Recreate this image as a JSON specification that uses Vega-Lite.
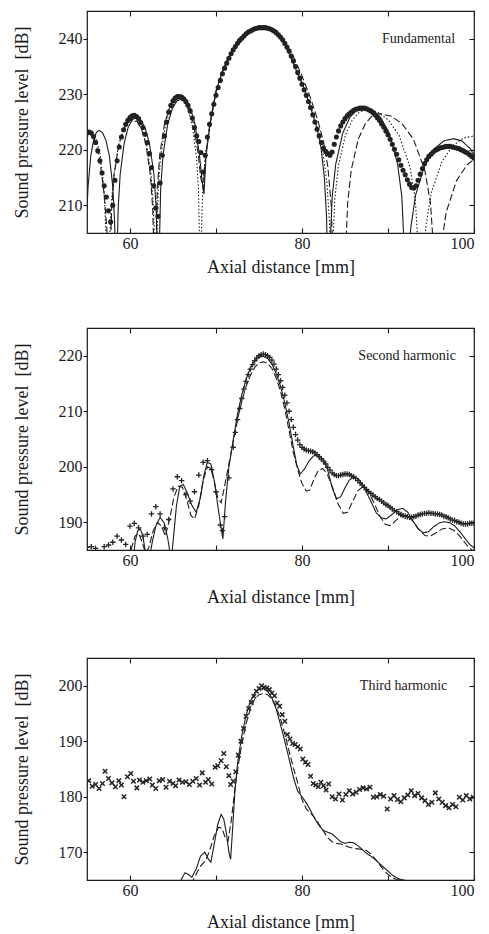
{
"$schema": "https://vega.github.io/schema/vega-lite/v6.json",
"background": "#ffffff",
"padding": {"left": 12, "top": 9, "right": 8, "bottom": 4},
"spacing": 49,
"config": {
  "font": "Liberation Serif",
  "view": {"stroke": "#1a1a1a", "strokeWidth": 1.2},
  "axis": {"domain": false, "grid": false, "tickSize": -5, "tickColor": "#1a1a1a", "tickWidth": 1.1, "labelFont": "Liberation Serif", "labelFontSize": 16, "labelColor": "#1a1a1a", "titleFont": "Liberation Serif", "titleFontSize": 18, "titleFontWeight": "normal", "titleColor": "#1a1a1a", "labelPadding": 3},
  "axisBottom": {"labelPadding": 7},
  "axisLeft": {"tickSize": 4, "labelPadding": 1, "titlePadding": 27}
},
"datasets": {
"p1": [
{"s":"solid","x":55.0,"y":209.3},{"s":"solid","x":55.12,"y":213.3},{"s":"solid","x":55.44,"y":218.9},{"s":"solid","x":55.76,"y":221.7},{"s":"solid","x":56.08,"y":223.1},{"s":"solid","x":56.4,"y":223.5},{"s":"solid","x":56.8,"y":223.1},{"s":"solid","x":57.2,"y":221.7},{"s":"solid","x":57.6,"y":218.9},{"s":"solid","x":58.0,"y":213.3},{"s":"solid","x":58.2,"y":207.4},{"s":"solid","x":58.4,"y":195},
{"s":"solid","x":58.63,"y":209.7},{"s":"solid","x":58.86,"y":215.6},{"s":"solid","x":59.32,"y":221.2},{"s":"solid","x":59.78,"y":224.0},{"s":"solid","x":60.24,"y":225.4},{"s":"solid","x":60.7,"y":225.8},{"s":"solid","x":61.22,"y":225.4},{"s":"solid","x":61.74,"y":224.0},{"s":"solid","x":62.26,"y":221.2},{"s":"solid","x":62.78,"y":215.6},{"s":"solid","x":63.04,"y":209.7},{"s":"solid","x":63.3,"y":195},
{"s":"solid","x":63.57,"y":213.1},{"s":"solid","x":63.84,"y":219.0},{"s":"solid","x":64.38,"y":224.6},{"s":"solid","x":64.92,"y":227.4},{"s":"solid","x":65.46,"y":228.8},{"s":"solid","x":66.0,"y":229.2},{"s":"solid","x":66.52,"y":228.8},{"s":"solid","x":67.04,"y":227.4},{"s":"solid","x":67.56,"y":224.6},{"s":"solid","x":68.08,"y":219.0},{"s":"solid","x":68.34,"y":215},{"s":"solid","x":68.6,"y":212},
{"s":"solid","x":68.85,"y":219},{"s":"solid","x":69.3,"y":224.5},{"s":"solid","x":70,"y":230.5},{"s":"solid","x":70.7,"y":234},{"s":"solid","x":71.5,"y":236.7},{"s":"solid","x":72.3,"y":238.6},{"s":"solid","x":73.1,"y":240.1},{"s":"solid","x":74,"y":241.3},{"s":"solid","x":75,"y":242},{"s":"solid","x":76,"y":241.9},{"s":"solid","x":77,"y":241.2},{"s":"solid","x":77.7,"y":240},{"s":"solid","x":78.3,"y":238},{"s":"solid","x":79,"y":235.5},{"s":"solid","x":79.5,"y":233.7},{"s":"solid","x":80.3,"y":230.8},{"s":"solid","x":81,"y":227.6},{"s":"solid","x":81.8,"y":223.5},{"s":"solid","x":82.2,"y":220.5},{"s":"solid","x":82.6,"y":215},{"s":"solid","x":82.85,"y":208},{"s":"solid","x":83.05,"y":195},
{"s":"solid","x":83.51,"y":211.5},{"s":"solid","x":83.92,"y":217.4},{"s":"solid","x":84.74,"y":223},{"s":"solid","x":85.56,"y":225.8},{"s":"solid","x":86.38,"y":227.2},{"s":"solid","x":87.2,"y":227.6},{"s":"solid","x":88.18,"y":227.2},{"s":"solid","x":89.16,"y":225.8},{"s":"solid","x":90.14,"y":223},{"s":"solid","x":91.12,"y":217.4},{"s":"solid","x":91.61,"y":211.5},{"s":"solid","x":92.1,"y":195},
{"s":"solid","x":92.65,"y":205.9},{"s":"solid","x":93.2,"y":211.8},{"s":"solid","x":94.3,"y":217.4},{"s":"solid","x":95.4,"y":220.2},{"s":"solid","x":96.5,"y":221.6},{"s":"solid","x":97.6,"y":222},{"s":"solid","x":98.58,"y":221.6},{"s":"solid","x":99.56,"y":220.2},{"s":"solid","x":100,"y":219.1},
{"s":"dotted","x":55,"y":222.3},{"s":"dotted","x":55.5,"y":223},{"s":"dotted","x":56,"y":222.3},{"s":"dotted","x":56.5,"y":219.5},{"s":"dotted","x":56.9,"y":214},{"s":"dotted","x":57.1,"y":209},{"s":"dotted","x":57.4,"y":195},
{"s":"dotted","x":57.79,"y":209.2},{"s":"dotted","x":58.08,"y":215.1},{"s":"dotted","x":58.66,"y":220.7},{"s":"dotted","x":59.24,"y":223.5},{"s":"dotted","x":59.82,"y":224.9},{"s":"dotted","x":60.4,"y":225.3},{"s":"dotted","x":60.92,"y":224.9},{"s":"dotted","x":61.44,"y":223.5},{"s":"dotted","x":61.96,"y":220.7},{"s":"dotted","x":62.48,"y":215.1},{"s":"dotted","x":62.74,"y":209.2},{"s":"dotted","x":63.0,"y":195},
{"s":"dotted","x":63.28,"y":212.9},{"s":"dotted","x":63.56,"y":218.8},{"s":"dotted","x":64.12,"y":224.4},{"s":"dotted","x":64.68,"y":227.2},{"s":"dotted","x":65.24,"y":228.6},{"s":"dotted","x":65.8,"y":229},{"s":"dotted","x":66.28,"y":228.6},{"s":"dotted","x":66.76,"y":227.2},{"s":"dotted","x":67.24,"y":224.4},{"s":"dotted","x":67.72,"y":218.8},{"s":"dotted","x":67.96,"y":212.9},{"s":"dotted","x":68.2,"y":195},
{"s":"dotted","x":68.35,"y":208},{"s":"dotted","x":68.5,"y":214},{"s":"dotted","x":68.8,"y":219.5},{"s":"dotted","x":69.3,"y":224.5},{"s":"dotted","x":70,"y":230.3},{"s":"dotted","x":71,"y":235},{"s":"dotted","x":72,"y":238.2},{"s":"dotted","x":73,"y":240.2},{"s":"dotted","x":74,"y":241.4},{"s":"dotted","x":75,"y":242},{"s":"dotted","x":76,"y":241.9},{"s":"dotted","x":77,"y":241.2},{"s":"dotted","x":78,"y":239},{"s":"dotted","x":79,"y":236},{"s":"dotted","x":80,"y":232},{"s":"dotted","x":81,"y":228},{"s":"dotted","x":81.8,"y":224},{"s":"dotted","x":82.4,"y":220},{"s":"dotted","x":82.9,"y":214},{"s":"dotted","x":83.2,"y":207},{"s":"dotted","x":83.4,"y":195},
{"s":"dotted","x":83.81,"y":211.1},{"s":"dotted","x":84.22,"y":217},{"s":"dotted","x":85.04,"y":222.6},{"s":"dotted","x":85.86,"y":225.4},{"s":"dotted","x":86.68,"y":226.8},{"s":"dotted","x":87.5,"y":227.2},{"s":"dotted","x":88.76,"y":226.8},{"s":"dotted","x":90.02,"y":225.4},{"s":"dotted","x":91.28,"y":222.6},{"s":"dotted","x":92.54,"y":217},{"s":"dotted","x":93.17,"y":211.1},{"s":"dotted","x":93.8,"y":195},
{"s":"dotted","x":94.42,"y":206.4},{"s":"dotted","x":95.04,"y":212.3},{"s":"dotted","x":96.28,"y":217.9},{"s":"dotted","x":97.52,"y":220.7},{"s":"dotted","x":98.76,"y":222.1},{"s":"dotted","x":100,"y":222.5},
{"s":"dashed","x":55,"y":223},{"s":"dashed","x":55.5,"y":223},{"s":"dashed","x":56,"y":221.5},{"s":"dashed","x":56.5,"y":218},{"s":"dashed","x":57,"y":212},{"s":"dashed","x":57.3,"y":206},{"s":"dashed","x":57.6,"y":195},
{"s":"dashed","x":57.87,"y":209.4},{"s":"dashed","x":58.14,"y":215.3},{"s":"dashed","x":58.68,"y":220.9},{"s":"dashed","x":59.22,"y":223.7},{"s":"dashed","x":59.76,"y":225.1},{"s":"dashed","x":60.3,"y":225.5},{"s":"dashed","x":60.82,"y":225.1},{"s":"dashed","x":61.34,"y":223.7},{"s":"dashed","x":61.86,"y":220.9},{"s":"dashed","x":62.38,"y":215.3},{"s":"dashed","x":62.64,"y":209.4},{"s":"dashed","x":62.9,"y":195},
{"s":"dashed","x":63.18,"y":213.2},{"s":"dashed","x":63.46,"y":219.1},{"s":"dashed","x":64.02,"y":224.7},{"s":"dashed","x":64.58,"y":227.5},{"s":"dashed","x":65.14,"y":228.9},{"s":"dashed","x":65.7,"y":229.3},{"s":"dashed","x":66.26,"y":228.9},{"s":"dashed","x":66.82,"y":227.5},{"s":"dashed","x":67.38,"y":224.7},{"s":"dashed","x":67.94,"y":219.1},{"s":"dashed","x":68.22,"y":215},{"s":"dashed","x":68.5,"y":213},
{"s":"dashed","x":68.8,"y":219},{"s":"dashed","x":69.3,"y":224.8},{"s":"dashed","x":70,"y":230.6},{"s":"dashed","x":71,"y":235.2},{"s":"dashed","x":72,"y":238.4},{"s":"dashed","x":73,"y":240.4},{"s":"dashed","x":74,"y":241.6},{"s":"dashed","x":75,"y":242.1},{"s":"dashed","x":76,"y":242},{"s":"dashed","x":77,"y":241.4},{"s":"dashed","x":78,"y":239.5},{"s":"dashed","x":79,"y":236.8},{"s":"dashed","x":80,"y":233.3},{"s":"dashed","x":81,"y":229.3},{"s":"dashed","x":81.8,"y":225.5},{"s":"dashed","x":82.5,"y":221.5},{"s":"dashed","x":83,"y":217},{"s":"dashed","x":83.4,"y":210},{"s":"dashed","x":83.7,"y":195},{"s":"dashed","x":84.9,"y":195},
{"s":"dashed","x":85.31,"y":210.4},{"s":"dashed","x":85.72,"y":216.3},{"s":"dashed","x":86.54,"y":221.9},{"s":"dashed","x":87.36,"y":224.7},{"s":"dashed","x":88.18,"y":226.1},{"s":"dashed","x":89.0,"y":226.5},{"s":"dashed","x":90.32,"y":226.1},{"s":"dashed","x":91.64,"y":224.7},{"s":"dashed","x":92.96,"y":221.9},{"s":"dashed","x":94.28,"y":216.3},{"s":"dashed","x":94.94,"y":210.4},{"s":"dashed","x":95.6,"y":195},
{"s":"dashed","x":96.19,"y":202.9},{"s":"dashed","x":96.78,"y":208.8},{"s":"dashed","x":97.96,"y":214.4},{"s":"dashed","x":99.14,"y":217.2},{"s":"dashed","x":100,"y":218.3},
{"s":"meas","x":55.0,"y":223.0},{"s":"meas","x":55.25,"y":223.2},{"s":"meas","x":55.5,"y":223.0},{"s":"meas","x":55.75,"y":222.4},{"s":"meas","x":56.0,"y":221.3},{"s":"meas","x":56.25,"y":219.8},{"s":"meas","x":56.5,"y":218.0},{"s":"meas","x":56.75,"y":215.8},{"s":"meas","x":57.0,"y":213.5},{"s":"meas","x":57.25,"y":211.5},{"s":"meas","x":57.5,"y":209.0},{"s":"meas","x":57.75,"y":207.0},{"s":"meas","x":58.0,"y":210.0},{"s":"meas","x":58.25,"y":214.5},{"s":"meas","x":58.5,"y":218.0},{"s":"meas","x":58.75,"y":220.5},{"s":"meas","x":59.0,"y":222.3},{"s":"meas","x":59.25,"y":223.6},{"s":"meas","x":59.5,"y":224.6},{"s":"meas","x":59.75,"y":225.3},{"s":"meas","x":60.0,"y":225.8},{"s":"meas","x":60.25,"y":226.1},{"s":"meas","x":60.5,"y":226.2},{"s":"meas","x":60.75,"y":226.0},{"s":"meas","x":61.0,"y":225.6},{"s":"meas","x":61.25,"y":224.9},{"s":"meas","x":61.5,"y":224.0},{"s":"meas","x":61.75,"y":222.8},{"s":"meas","x":62.0,"y":221.3},{"s":"meas","x":62.25,"y":219.3},{"s":"meas","x":62.5,"y":216.8},{"s":"meas","x":62.75,"y":213.5},{"s":"meas","x":63.0,"y":209.5},{"s":"meas","x":63.25,"y":208.0},{"s":"meas","x":63.5,"y":214.0},{"s":"meas","x":63.75,"y":219.0},{"s":"meas","x":64.0,"y":222.5},{"s":"meas","x":64.25,"y":225.0},{"s":"meas","x":64.5,"y":226.8},{"s":"meas","x":64.75,"y":228.0},{"s":"meas","x":65.0,"y":228.8},{"s":"meas","x":65.25,"y":229.3},{"s":"meas","x":65.5,"y":229.6},{"s":"meas","x":65.75,"y":229.6},{"s":"meas","x":66.0,"y":229.5},{"s":"meas","x":66.25,"y":229.2},{"s":"meas","x":66.5,"y":228.7},{"s":"meas","x":66.75,"y":228.0},{"s":"meas","x":67.0,"y":227.0},{"s":"meas","x":67.25,"y":225.7},{"s":"meas","x":67.5,"y":224.0},{"s":"meas","x":67.75,"y":222.5},{"s":"meas","x":68.0,"y":221.5},{"s":"meas","x":68.25,"y":219.5},{"s":"meas","x":68.5,"y":216.0},{"s":"meas","x":68.75,"y":219.0},{"s":"meas","x":69.0,"y":222.3},{"s":"meas","x":69.25,"y":224.6},{"s":"meas","x":69.5,"y":226.5},{"s":"meas","x":69.75,"y":228.2},{"s":"meas","x":70.0,"y":229.8},{"s":"meas","x":70.25,"y":231.2},{"s":"meas","x":70.5,"y":232.5},{"s":"meas","x":70.75,"y":233.7},{"s":"meas","x":71.0,"y":234.7},{"s":"meas","x":71.25,"y":235.6},{"s":"meas","x":71.5,"y":236.5},{"s":"meas","x":71.75,"y":237.3},{"s":"meas","x":72.0,"y":238.0},{"s":"meas","x":72.25,"y":238.6},{"s":"meas","x":72.5,"y":239.2},{"s":"meas","x":72.75,"y":239.7},{"s":"meas","x":73.0,"y":240.1},{"s":"meas","x":73.25,"y":240.5},{"s":"meas","x":73.5,"y":240.9},{"s":"meas","x":73.75,"y":241.2},{"s":"meas","x":74.0,"y":241.4},{"s":"meas","x":74.25,"y":241.6},{"s":"meas","x":74.5,"y":241.8},{"s":"meas","x":74.75,"y":241.9},{"s":"meas","x":75.0,"y":242.0},{"s":"meas","x":75.25,"y":242.0},{"s":"meas","x":75.5,"y":242.0},{"s":"meas","x":75.75,"y":242.0},{"s":"meas","x":76.0,"y":241.9},{"s":"meas","x":76.25,"y":241.8},{"s":"meas","x":76.5,"y":241.6},{"s":"meas","x":76.75,"y":241.4},{"s":"meas","x":77.0,"y":241.1},{"s":"meas","x":77.25,"y":240.7},{"s":"meas","x":77.5,"y":240.3},{"s":"meas","x":77.75,"y":239.8},{"s":"meas","x":78.0,"y":239.2},{"s":"meas","x":78.25,"y":238.5},{"s":"meas","x":78.5,"y":237.8},{"s":"meas","x":78.75,"y":236.9},{"s":"meas","x":79.0,"y":236.0},{"s":"meas","x":79.25,"y":235.0},{"s":"meas","x":79.5,"y":233.9},{"s":"meas","x":79.75,"y":232.9},{"s":"meas","x":80.0,"y":231.8},{"s":"meas","x":80.25,"y":230.8},{"s":"meas","x":80.5,"y":229.8},{"s":"meas","x":80.75,"y":228.7},{"s":"meas","x":81.0,"y":227.6},{"s":"meas","x":81.25,"y":226.3},{"s":"meas","x":81.5,"y":225.0},{"s":"meas","x":81.75,"y":223.7},{"s":"meas","x":82.0,"y":222.5},{"s":"meas","x":82.25,"y":221.3},{"s":"meas","x":82.5,"y":220.3},{"s":"meas","x":82.75,"y":219.7},{"s":"meas","x":83.0,"y":219.3},{"s":"meas","x":83.25,"y":219.0},{"s":"meas","x":83.5,"y":219.6},{"s":"meas","x":83.75,"y":221.0},{"s":"meas","x":84.0,"y":222.3},{"s":"meas","x":84.25,"y":223.4},{"s":"meas","x":84.5,"y":224.3},{"s":"meas","x":84.75,"y":225.0},{"s":"meas","x":85.0,"y":225.6},{"s":"meas","x":85.25,"y":226.1},{"s":"meas","x":85.5,"y":226.5},{"s":"meas","x":85.75,"y":226.8},{"s":"meas","x":86.0,"y":227.1},{"s":"meas","x":86.25,"y":227.3},{"s":"meas","x":86.5,"y":227.4},{"s":"meas","x":86.75,"y":227.5},{"s":"meas","x":87.0,"y":227.5},{"s":"meas","x":87.25,"y":227.5},{"s":"meas","x":87.5,"y":227.4},{"s":"meas","x":87.75,"y":227.2},{"s":"meas","x":88.0,"y":227.0},{"s":"meas","x":88.25,"y":226.7},{"s":"meas","x":88.5,"y":226.3},{"s":"meas","x":88.75,"y":225.8},{"s":"meas","x":89.0,"y":225.3},{"s":"meas","x":89.25,"y":224.7},{"s":"meas","x":89.5,"y":224.1},{"s":"meas","x":89.75,"y":223.4},{"s":"meas","x":90.0,"y":222.7},{"s":"meas","x":90.25,"y":221.9},{"s":"meas","x":90.5,"y":221.0},{"s":"meas","x":90.75,"y":220.1},{"s":"meas","x":91.0,"y":219.2},{"s":"meas","x":91.25,"y":218.2},{"s":"meas","x":91.5,"y":217.2},{"s":"meas","x":91.75,"y":216.3},{"s":"meas","x":92.0,"y":215.5},{"s":"meas","x":92.25,"y":214.6},{"s":"meas","x":92.5,"y":213.8},{"s":"meas","x":92.75,"y":213.2},{"s":"meas","x":93.0,"y":213.1},{"s":"meas","x":93.25,"y":213.5},{"s":"meas","x":93.5,"y":214.5},{"s":"meas","x":93.75,"y":215.6},{"s":"meas","x":94.0,"y":216.6},{"s":"meas","x":94.25,"y":217.5},{"s":"meas","x":94.5,"y":218.2},{"s":"meas","x":94.75,"y":218.8},{"s":"meas","x":95.0,"y":219.2},{"s":"meas","x":95.25,"y":219.6},{"s":"meas","x":95.5,"y":219.9},{"s":"meas","x":95.75,"y":220.1},{"s":"meas","x":96.0,"y":220.3},{"s":"meas","x":96.25,"y":220.4},{"s":"meas","x":96.5,"y":220.5},{"s":"meas","x":96.75,"y":220.6},{"s":"meas","x":97.0,"y":220.6},{"s":"meas","x":97.25,"y":220.6},{"s":"meas","x":97.5,"y":220.5},{"s":"meas","x":97.75,"y":220.4},{"s":"meas","x":98.0,"y":220.3},{"s":"meas","x":98.25,"y":220.2},{"s":"meas","x":98.5,"y":220.0},{"s":"meas","x":98.75,"y":219.8},{"s":"meas","x":99.0,"y":219.6},{"s":"meas","x":99.25,"y":219.4},{"s":"meas","x":99.5,"y":219.1},{"s":"meas","x":99.75,"y":218.8},{"s":"meas","x":100.0,"y":218.5}
],
"p2": [
{"s":"solid","x":55,"y":180},{"s":"solid","x":60.3,"y":182},{"s":"solid","x":60.6,"y":186.5},{"s":"solid","x":60.9,"y":188.5},{"s":"solid","x":61.2,"y":188.8},{"s":"solid","x":61.5,"y":187.5},{"s":"solid","x":61.8,"y":184.5},{"s":"solid","x":62.2,"y":183},{"s":"solid","x":62.6,"y":186.5},{"s":"solid","x":63.0,"y":189.3},{"s":"solid","x":63.5,"y":190.9},{"s":"solid","x":64.0,"y":189.8},{"s":"solid","x":64.4,"y":187},{"s":"solid","x":64.8,"y":183},{"s":"solid","x":65.1,"y":188},{"s":"solid","x":65.4,"y":193},{"s":"solid","x":65.8,"y":196.5},{"s":"solid","x":66.2,"y":196.8},{"s":"solid","x":66.6,"y":195.5},{"s":"solid","x":67.2,"y":193},{"s":"solid","x":67.7,"y":191.8},{"s":"solid","x":68.2,"y":194.5},{"s":"solid","x":68.6,"y":198.5},{"s":"solid","x":69.0,"y":200.8},{"s":"solid","x":69.4,"y":200.5},{"s":"solid","x":69.8,"y":197.5},{"s":"solid","x":70.3,"y":192},{"s":"solid","x":70.8,"y":187},{"s":"solid","x":71.1,"y":193.5},{"s":"solid","x":71.5,"y":200},{"s":"solid","x":72.0,"y":204.8},{"s":"solid","x":72.5,"y":209.5},{"s":"solid","x":73.0,"y":213},{"s":"solid","x":73.5,"y":215.8},{"s":"solid","x":74.0,"y":217.8},{"s":"solid","x":74.5,"y":219.1},{"s":"solid","x":75.0,"y":219.8},{"s":"solid","x":75.5,"y":219.9},{"s":"solid","x":76.0,"y":219.5},{"s":"solid","x":76.5,"y":218.5},{"s":"solid","x":77.0,"y":216.8},{"s":"solid","x":77.5,"y":214.5},{"s":"solid","x":78.0,"y":211.5},{"s":"solid","x":78.5,"y":207.8},{"s":"solid","x":79.0,"y":203.5},{"s":"solid","x":79.4,"y":200.3},{"s":"solid","x":79.8,"y":198.7},{"s":"solid","x":80.3,"y":199.6},{"s":"solid","x":80.8,"y":201.0},{"s":"solid","x":81.3,"y":201.9},{"s":"solid","x":81.9,"y":202.2},{"s":"solid","x":82.5,"y":201.3},{"s":"solid","x":83.0,"y":199.3},{"s":"solid","x":83.5,"y":196.3},{"s":"solid","x":84.0,"y":194.2},{"s":"solid","x":84.5,"y":194.6},{"s":"solid","x":85.0,"y":196.2},{"s":"solid","x":85.5,"y":197.6},{"s":"solid","x":86.1,"y":198.2},{"s":"solid","x":86.7,"y":197.6},{"s":"solid","x":87.3,"y":196.0},{"s":"solid","x":88.0,"y":193.8},{"s":"solid","x":88.6,"y":191.8},{"s":"solid","x":89.2,"y":190.8},{"s":"solid","x":89.8,"y":190.6},{"s":"solid","x":90.4,"y":191.3},{"s":"solid","x":91.0,"y":192.2},{"s":"solid","x":91.7,"y":192.5},{"s":"solid","x":92.3,"y":191.8},{"s":"solid","x":92.9,"y":190.2},{"s":"solid","x":93.5,"y":188.8},{"s":"solid","x":94.1,"y":188.1},{"s":"solid","x":94.7,"y":188.3},{"s":"solid","x":95.3,"y":189.2},{"s":"solid","x":96.0,"y":189.9},{"s":"solid","x":96.6,"y":190.1},{"s":"solid","x":97.2,"y":189.9},{"s":"solid","x":97.8,"y":189.3},{"s":"solid","x":98.4,"y":188.2},{"s":"solid","x":99.0,"y":187.0},{"s":"solid","x":99.5,"y":186.0},{"s":"solid","x":100,"y":185.4},
{"s":"dashed","x":55,"y":180},{"s":"dashed","x":59.8,"y":182},{"s":"dashed","x":60.2,"y":185.5},{"s":"dashed","x":60.6,"y":187.5},{"s":"dashed","x":61.0,"y":188.0},{"s":"dashed","x":61.4,"y":186.5},{"s":"dashed","x":61.8,"y":184.5},{"s":"dashed","x":62.2,"y":185.5},{"s":"dashed","x":62.7,"y":188.5},{"s":"dashed","x":63.2,"y":190},{"s":"dashed","x":63.7,"y":189.2},{"s":"dashed","x":64.1,"y":187.5},{"s":"dashed","x":64.6,"y":190.5},{"s":"dashed","x":65.1,"y":194.5},{"s":"dashed","x":65.6,"y":196.5},{"s":"dashed","x":66.1,"y":196.3},{"s":"dashed","x":66.6,"y":194},{"s":"dashed","x":67.1,"y":191.2},{"s":"dashed","x":67.5,"y":190.6},{"s":"dashed","x":68.0,"y":193},{"s":"dashed","x":68.5,"y":197.5},{"s":"dashed","x":69.0,"y":200.0},{"s":"dashed","x":69.4,"y":199.7},{"s":"dashed","x":69.8,"y":197.3},{"s":"dashed","x":70.2,"y":194.5},{"s":"dashed","x":70.6,"y":193.5},{"s":"dashed","x":71.0,"y":196.5},{"s":"dashed","x":71.5,"y":200.5},{"s":"dashed","x":72.0,"y":204.5},{"s":"dashed","x":72.5,"y":208.5},{"s":"dashed","x":73.0,"y":211.8},{"s":"dashed","x":73.5,"y":214.5},{"s":"dashed","x":74.0,"y":216.5},{"s":"dashed","x":74.5,"y":217.9},{"s":"dashed","x":75.0,"y":218.7},{"s":"dashed","x":75.5,"y":218.9},{"s":"dashed","x":76.0,"y":218.6},{"s":"dashed","x":76.5,"y":217.7},{"s":"dashed","x":77.0,"y":216.0},{"s":"dashed","x":77.5,"y":213.6},{"s":"dashed","x":78.0,"y":210.4},{"s":"dashed","x":78.5,"y":206.5},{"s":"dashed","x":79.0,"y":202.5},{"s":"dashed","x":79.5,"y":199.5},{"s":"dashed","x":80.0,"y":197},{"s":"dashed","x":80.5,"y":195.6},{"s":"dashed","x":80.9,"y":195.8},{"s":"dashed","x":81.4,"y":197.8},{"s":"dashed","x":81.9,"y":199.3},{"s":"dashed","x":82.4,"y":199.7},{"s":"dashed","x":82.9,"y":198.8},{"s":"dashed","x":83.5,"y":196.5},{"s":"dashed","x":84.2,"y":193.3},{"s":"dashed","x":84.8,"y":191.6},{"s":"dashed","x":85.3,"y":191.8},{"s":"dashed","x":85.9,"y":193.8},{"s":"dashed","x":86.5,"y":195.7},{"s":"dashed","x":87.1,"y":196.4},{"s":"dashed","x":87.7,"y":195.6},{"s":"dashed","x":88.4,"y":193.4},{"s":"dashed","x":89.1,"y":191.0},{"s":"dashed","x":89.7,"y":189.6},{"s":"dashed","x":90.3,"y":189.4},{"s":"dashed","x":90.9,"y":190.3},{"s":"dashed","x":91.6,"y":191.2},{"s":"dashed","x":92.2,"y":191.2},{"s":"dashed","x":92.9,"y":190.2},{"s":"dashed","x":93.6,"y":188.7},{"s":"dashed","x":94.3,"y":187.6},{"s":"dashed","x":94.9,"y":187.5},{"s":"dashed","x":95.6,"y":188.1},{"s":"dashed","x":96.3,"y":188.8},{"s":"dashed","x":97.0,"y":189.0},{"s":"dashed","x":97.7,"y":188.5},{"s":"dashed","x":98.4,"y":187.4},{"s":"dashed","x":99.1,"y":186.0},{"s":"dashed","x":99.6,"y":185.2},{"s":"dashed","x":100,"y":184.6},
{"s":"meas","x":55.0,"y":185.5},{"s":"meas","x":55.5,"y":185.6},{"s":"meas","x":56.0,"y":185.3},{"s":"meas","x":57.0,"y":185.6},{"s":"meas","x":57.5,"y":185.9},{"s":"meas","x":58.0,"y":186.4},{"s":"meas","x":58.5,"y":187.5},{"s":"meas","x":59.0,"y":186.8},{"s":"meas","x":59.5,"y":186.0},{"s":"meas","x":60.0,"y":189.3},{"s":"meas","x":60.5,"y":189.8},{"s":"meas","x":61.0,"y":189.0},{"s":"meas","x":61.5,"y":187.5},{"s":"meas","x":62.0,"y":187.8},{"s":"meas","x":62.5,"y":191.5},{"s":"meas","x":63.0,"y":192.8},{"s":"meas","x":63.5,"y":191.5},{"s":"meas","x":64.0,"y":189.0},{"s":"meas","x":64.5,"y":190.5},{"s":"meas","x":65.0,"y":196.0},{"s":"meas","x":65.5,"y":198.2},{"s":"meas","x":66.0,"y":197.5},{"s":"meas","x":66.5,"y":195.0},{"s":"meas","x":67.0,"y":193.8},{"s":"meas","x":67.5,"y":195.5},{"s":"meas","x":68.0,"y":198.5},{"s":"meas","x":68.5,"y":200.8},{"s":"meas","x":69.0,"y":201.1},{"s":"meas","x":69.5,"y":199.5},{"s":"meas","x":70.0,"y":195.5},{"s":"meas","x":70.5,"y":189.5},{"s":"meas","x":70.75,"y":188.5},{"s":"meas","x":71.0,"y":191.0},{"s":"meas","x":71.5,"y":198.0},{"s":"meas","x":72.0,"y":203.5},{"s":"meas","x":72.25,"y":206.2},{"s":"meas","x":72.5,"y":208.5},{"s":"meas","x":72.75,"y":210.5},{"s":"meas","x":73.0,"y":212.3},{"s":"meas","x":73.25,"y":214.0},{"s":"meas","x":73.5,"y":215.4},{"s":"meas","x":73.75,"y":216.6},{"s":"meas","x":74.0,"y":217.6},{"s":"meas","x":74.25,"y":218.4},{"s":"meas","x":74.5,"y":219.1},{"s":"meas","x":74.75,"y":219.6},{"s":"meas","x":75.0,"y":220.0},{"s":"meas","x":75.25,"y":220.2},{"s":"meas","x":75.5,"y":220.3},{"s":"meas","x":75.75,"y":220.2},{"s":"meas","x":76.0,"y":220.0},{"s":"meas","x":76.25,"y":219.7},{"s":"meas","x":76.5,"y":219.2},{"s":"meas","x":76.75,"y":218.5},{"s":"meas","x":77.0,"y":217.6},{"s":"meas","x":77.25,"y":216.6},{"s":"meas","x":77.5,"y":215.5},{"s":"meas","x":77.75,"y":214.3},{"s":"meas","x":78.0,"y":212.9},{"s":"meas","x":78.25,"y":211.5},{"s":"meas","x":78.5,"y":210.0},{"s":"meas","x":78.75,"y":208.5},{"s":"meas","x":79.0,"y":207.1},{"s":"meas","x":79.25,"y":205.8},{"s":"meas","x":79.5,"y":204.8},{"s":"meas","x":79.75,"y":204.0},{"s":"meas","x":80.0,"y":203.5},{"s":"meas","x":80.25,"y":203.2},{"s":"meas","x":80.5,"y":203.0},{"s":"meas","x":80.75,"y":202.9},{"s":"meas","x":81.0,"y":202.8},{"s":"meas","x":81.25,"y":202.7},{"s":"meas","x":81.5,"y":202.5},{"s":"meas","x":81.75,"y":202.2},{"s":"meas","x":82.0,"y":201.8},{"s":"meas","x":82.25,"y":201.4},{"s":"meas","x":82.5,"y":201.0},{"s":"meas","x":82.75,"y":200.5},{"s":"meas","x":83.0,"y":199.9},{"s":"meas","x":83.25,"y":199.4},{"s":"meas","x":83.5,"y":198.9},{"s":"meas","x":83.75,"y":198.6},{"s":"meas","x":84.0,"y":198.4},{"s":"meas","x":84.25,"y":198.4},{"s":"meas","x":84.5,"y":198.5},{"s":"meas","x":84.75,"y":198.6},{"s":"meas","x":85.0,"y":198.7},{"s":"meas","x":85.25,"y":198.7},{"s":"meas","x":85.5,"y":198.6},{"s":"meas","x":85.75,"y":198.4},{"s":"meas","x":86.0,"y":198.2},{"s":"meas","x":86.25,"y":197.9},{"s":"meas","x":86.5,"y":197.5},{"s":"meas","x":86.75,"y":197.1},{"s":"meas","x":87.0,"y":196.7},{"s":"meas","x":87.25,"y":196.3},{"s":"meas","x":87.5,"y":195.9},{"s":"meas","x":87.75,"y":195.5},{"s":"meas","x":88.0,"y":195.2},{"s":"meas","x":88.25,"y":194.9},{"s":"meas","x":88.5,"y":194.6},{"s":"meas","x":88.75,"y":194.3},{"s":"meas","x":89.0,"y":194.1},{"s":"meas","x":89.25,"y":193.8},{"s":"meas","x":89.5,"y":193.5},{"s":"meas","x":89.75,"y":193.2},{"s":"meas","x":90.0,"y":193.0},{"s":"meas","x":90.25,"y":192.7},{"s":"meas","x":90.5,"y":192.4},{"s":"meas","x":90.75,"y":192.1},{"s":"meas","x":91.0,"y":191.9},{"s":"meas","x":91.25,"y":191.6},{"s":"meas","x":91.5,"y":191.4},{"s":"meas","x":91.75,"y":191.2},{"s":"meas","x":92.0,"y":191.1},{"s":"meas","x":92.25,"y":191.0},{"s":"meas","x":92.5,"y":190.9},{"s":"meas","x":92.75,"y":190.9},{"s":"meas","x":93.0,"y":191.0},{"s":"meas","x":93.25,"y":191.1},{"s":"meas","x":93.5,"y":191.3},{"s":"meas","x":93.75,"y":191.4},{"s":"meas","x":94.0,"y":191.5},{"s":"meas","x":94.25,"y":191.6},{"s":"meas","x":94.5,"y":191.6},{"s":"meas","x":94.75,"y":191.7},{"s":"meas","x":95.0,"y":191.6},{"s":"meas","x":95.25,"y":191.6},{"s":"meas","x":95.5,"y":191.5},{"s":"meas","x":95.75,"y":191.5},{"s":"meas","x":96.0,"y":191.4},{"s":"meas","x":96.25,"y":191.3},{"s":"meas","x":96.5,"y":191.1},{"s":"meas","x":96.75,"y":191.0},{"s":"meas","x":97.0,"y":190.8},{"s":"meas","x":97.25,"y":190.6},{"s":"meas","x":97.5,"y":190.4},{"s":"meas","x":97.75,"y":190.3},{"s":"meas","x":98.0,"y":190.1},{"s":"meas","x":98.25,"y":190.0},{"s":"meas","x":98.5,"y":189.8},{"s":"meas","x":98.75,"y":189.7},{"s":"meas","x":99.0,"y":189.7},{"s":"meas","x":99.25,"y":189.7},{"s":"meas","x":99.5,"y":189.8},{"s":"meas","x":99.75,"y":189.8},{"s":"meas","x":100.0,"y":189.8}
],
"p3": [
{"s":"solid","x":55,"y":160},{"s":"solid","x":65.5,"y":163},{"s":"solid","x":66.0,"y":165.2},{"s":"solid","x":66.4,"y":166.3},{"s":"solid","x":66.8,"y":166.0},{"s":"solid","x":67.2,"y":165.5},{"s":"solid","x":67.7,"y":167},{"s":"solid","x":68.2,"y":169.3},{"s":"solid","x":68.7,"y":170.0},{"s":"solid","x":69.1,"y":168.8},{"s":"solid","x":69.4,"y":168.2},{"s":"solid","x":69.8,"y":171.5},{"s":"solid","x":70.2,"y":175},{"s":"solid","x":70.6,"y":176.8},{"s":"solid","x":70.9,"y":176.0},{"s":"solid","x":71.2,"y":173.5},{"s":"solid","x":71.5,"y":170},{"s":"solid","x":71.7,"y":168.7},{"s":"solid","x":71.9,"y":173.5},{"s":"solid","x":72.2,"y":181},{"s":"solid","x":72.5,"y":186},{"s":"solid","x":73.0,"y":191},{"s":"solid","x":73.5,"y":194.7},{"s":"solid","x":74.0,"y":197.2},{"s":"solid","x":74.5,"y":198.7},{"s":"solid","x":75.0,"y":199.4},{"s":"solid","x":75.5,"y":199.5},{"s":"solid","x":76.0,"y":199.0},{"s":"solid","x":76.5,"y":197.8},{"s":"solid","x":77.0,"y":195.8},{"s":"solid","x":77.5,"y":193.0},{"s":"solid","x":78.0,"y":190.0},{"s":"solid","x":78.5,"y":186.8},{"s":"solid","x":79.0,"y":183.5},{"s":"solid","x":79.5,"y":181.0},{"s":"solid","x":80.0,"y":180.0},{"s":"solid","x":80.5,"y":178.9},{"s":"solid","x":81.0,"y":177.5},{"s":"solid","x":81.5,"y":176.0},{"s":"solid","x":82.0,"y":174.8},{"s":"solid","x":82.5,"y":173.9},{"s":"solid","x":83.0,"y":173.6},{"s":"solid","x":83.5,"y":173.3},{"s":"solid","x":84.0,"y":172.6},{"s":"solid","x":84.5,"y":171.9},{"s":"solid","x":85.0,"y":171.6},{"s":"solid","x":85.5,"y":171.8},{"s":"solid","x":86.0,"y":171.7},{"s":"solid","x":86.5,"y":171.2},{"s":"solid","x":87.0,"y":170.5},{"s":"solid","x":87.5,"y":169.8},{"s":"solid","x":88.0,"y":169.3},{"s":"solid","x":88.5,"y":168.7},{"s":"solid","x":89.0,"y":168.0},{"s":"solid","x":89.5,"y":167.3},{"s":"solid","x":90.0,"y":166.6},{"s":"solid","x":90.5,"y":165.9},{"s":"solid","x":91.0,"y":165.4},{"s":"solid","x":91.5,"y":165.1},{"s":"solid","x":92.0,"y":164.9},{"s":"solid","x":94.0,"y":164.0},{"s":"solid","x":100,"y":160},
{"s":"dashed","x":55,"y":160},{"s":"dashed","x":66.8,"y":163},{"s":"dashed","x":67.5,"y":165.5},{"s":"dashed","x":68.2,"y":167.5},{"s":"dashed","x":68.8,"y":168.5},{"s":"dashed","x":69.3,"y":170.5},{"s":"dashed","x":69.8,"y":173},{"s":"dashed","x":70.3,"y":174.5},{"s":"dashed","x":70.7,"y":174.3},{"s":"dashed","x":71.1,"y":172.5},{"s":"dashed","x":71.4,"y":172},{"s":"dashed","x":71.8,"y":176},{"s":"dashed","x":72.2,"y":181.5},{"s":"dashed","x":72.6,"y":185.8},{"s":"dashed","x":73.0,"y":189.5},{"s":"dashed","x":73.5,"y":193.2},{"s":"dashed","x":74.0,"y":195.9},{"s":"dashed","x":74.5,"y":197.6},{"s":"dashed","x":75.0,"y":198.4},{"s":"dashed","x":75.5,"y":198.6},{"s":"dashed","x":76.0,"y":198.4},{"s":"dashed","x":76.5,"y":197.6},{"s":"dashed","x":77.0,"y":196.2},{"s":"dashed","x":77.5,"y":194.0},{"s":"dashed","x":78.0,"y":191.3},{"s":"dashed","x":78.5,"y":188.2},{"s":"dashed","x":79.0,"y":185.2},{"s":"dashed","x":79.5,"y":182.5},{"s":"dashed","x":80.0,"y":179.5},{"s":"dashed","x":80.5,"y":177.8},{"s":"dashed","x":81.0,"y":177.0},{"s":"dashed","x":81.5,"y":176.2},{"s":"dashed","x":82.0,"y":175.0},{"s":"dashed","x":82.5,"y":173.8},{"s":"dashed","x":83.0,"y":172.6},{"s":"dashed","x":83.5,"y":171.9},{"s":"dashed","x":84.0,"y":171.6},{"s":"dashed","x":84.5,"y":171.5},{"s":"dashed","x":85.0,"y":171.2},{"s":"dashed","x":85.5,"y":170.9},{"s":"dashed","x":86.0,"y":170.7},{"s":"dashed","x":86.5,"y":170.6},{"s":"dashed","x":87.0,"y":170.5},{"s":"dashed","x":87.5,"y":170.3},{"s":"dashed","x":88.0,"y":169.7},{"s":"dashed","x":88.5,"y":168.8},{"s":"dashed","x":89.0,"y":167.8},{"s":"dashed","x":89.5,"y":166.8},{"s":"dashed","x":90.0,"y":166.0},{"s":"dashed","x":90.5,"y":165.4},{"s":"dashed","x":91.0,"y":165.1},{"s":"dashed","x":92.0,"y":164.9},{"s":"dashed","x":94.0,"y":164.0},{"s":"dashed","x":100,"y":160},
{"s":"meas","x":55.2,"y":182.9},{"s":"meas","x":55.6,"y":181.9},{"s":"meas","x":56.0,"y":182.2},{"s":"meas","x":56.4,"y":181.5},{"s":"meas","x":56.8,"y":182.4},{"s":"meas","x":57.1,"y":184.6},{"s":"meas","x":57.5,"y":183.3},{"s":"meas","x":57.9,"y":182.5},{"s":"meas","x":58.3,"y":181.8},{"s":"meas","x":58.7,"y":182.9},{"s":"meas","x":59.0,"y":182.1},{"s":"meas","x":59.3,"y":180.0},{"s":"meas","x":59.7,"y":183.6},{"s":"meas","x":60.1,"y":184.2},{"s":"meas","x":60.4,"y":182.8},{"s":"meas","x":60.8,"y":181.6},{"s":"meas","x":61.1,"y":183.0},{"s":"meas","x":61.5,"y":182.6},{"s":"meas","x":61.9,"y":182.9},{"s":"meas","x":62.3,"y":183.2},{"s":"meas","x":62.6,"y":182.1},{"s":"meas","x":63.0,"y":181.5},{"s":"meas","x":63.4,"y":182.9},{"s":"meas","x":63.8,"y":183.1},{"s":"meas","x":64.2,"y":181.7},{"s":"meas","x":64.6,"y":182.8},{"s":"meas","x":65.0,"y":182.4},{"s":"meas","x":65.3,"y":182.0},{"s":"meas","x":65.7,"y":183.0},{"s":"meas","x":66.1,"y":182.6},{"s":"meas","x":66.5,"y":182.7},{"s":"meas","x":66.9,"y":182.2},{"s":"meas","x":67.3,"y":182.8},{"s":"meas","x":67.7,"y":183.3},{"s":"meas","x":68.1,"y":182.1},{"s":"meas","x":68.4,"y":184.3},{"s":"meas","x":68.8,"y":182.6},{"s":"meas","x":69.1,"y":183.1},{"s":"meas","x":69.5,"y":182.3},{"s":"meas","x":69.9,"y":185.3},{"s":"meas","x":70.2,"y":185.6},{"s":"meas","x":70.6,"y":186.5},{"s":"meas","x":70.9,"y":187.8},{"s":"meas","x":71.2,"y":185.4},{"s":"meas","x":71.5,"y":183.8},{"s":"meas","x":71.7,"y":182.2},{"s":"meas","x":72.0,"y":182.8},{"s":"meas","x":72.3,"y":184.5},{"s":"meas","x":72.6,"y":187.5},{"s":"meas","x":72.9,"y":190.0},{"s":"meas","x":73.2,"y":192.3},{"s":"meas","x":73.5,"y":194.5},{"s":"meas","x":73.8,"y":195.9},{"s":"meas","x":74.1,"y":197.0},{"s":"meas","x":74.4,"y":198.1},{"s":"meas","x":74.7,"y":199.0},{"s":"meas","x":75.0,"y":199.5},{"s":"meas","x":75.3,"y":200.0},{"s":"meas","x":75.6,"y":199.7},{"s":"meas","x":75.9,"y":199.6},{"s":"meas","x":76.2,"y":199.3},{"s":"meas","x":76.5,"y":198.7},{"s":"meas","x":76.8,"y":198.2},{"s":"meas","x":77.1,"y":196.9},{"s":"meas","x":77.4,"y":196.3},{"s":"meas","x":77.7,"y":194.8},{"s":"meas","x":78.0,"y":193.6},{"s":"meas","x":78.3,"y":191.2},{"s":"meas","x":78.6,"y":190.4},{"s":"meas","x":78.9,"y":189.6},{"s":"meas","x":79.2,"y":189.4},{"s":"meas","x":79.5,"y":189.0},{"s":"meas","x":79.8,"y":188.6},{"s":"meas","x":80.1,"y":186.8},{"s":"meas","x":80.4,"y":186.2},{"s":"meas","x":80.7,"y":185.8},{"s":"meas","x":81.0,"y":183.7},{"s":"meas","x":81.3,"y":182.4},{"s":"meas","x":81.6,"y":182.1},{"s":"meas","x":81.9,"y":181.8},{"s":"meas","x":82.2,"y":182.6},{"s":"meas","x":82.5,"y":182.0},{"s":"meas","x":82.8,"y":181.2},{"s":"meas","x":83.1,"y":182.3},{"s":"meas","x":83.5,"y":180.0},{"s":"meas","x":83.9,"y":179.6},{"s":"meas","x":84.3,"y":180.5},{"s":"meas","x":84.7,"y":179.4},{"s":"meas","x":85.1,"y":180.4},{"s":"meas","x":85.5,"y":181.1},{"s":"meas","x":85.9,"y":180.5},{"s":"meas","x":86.3,"y":180.8},{"s":"meas","x":86.7,"y":181.3},{"s":"meas","x":87.1,"y":181.6},{"s":"meas","x":87.5,"y":181.4},{"s":"meas","x":87.9,"y":181.7},{"s":"meas","x":88.3,"y":179.9},{"s":"meas","x":88.7,"y":180.0},{"s":"meas","x":89.1,"y":180.4},{"s":"meas","x":89.5,"y":180.1},{"s":"meas","x":89.9,"y":177.8},{"s":"meas","x":90.3,"y":179.6},{"s":"meas","x":90.7,"y":180.2},{"s":"meas","x":91.1,"y":179.5},{"s":"meas","x":91.5,"y":179.1},{"s":"meas","x":91.9,"y":179.8},{"s":"meas","x":92.3,"y":180.3},{"s":"meas","x":92.7,"y":181.1},{"s":"meas","x":93.1,"y":180.2},{"s":"meas","x":93.5,"y":180.6},{"s":"meas","x":93.9,"y":179.8},{"s":"meas","x":94.3,"y":179.3},{"s":"meas","x":94.7,"y":178.6},{"s":"meas","x":95.1,"y":179.0},{"s":"meas","x":95.5,"y":180.7},{"s":"meas","x":95.9,"y":179.6},{"s":"meas","x":96.3,"y":179.0},{"s":"meas","x":96.7,"y":178.4},{"s":"meas","x":97.1,"y":178.0},{"s":"meas","x":97.5,"y":178.6},{"s":"meas","x":97.9,"y":178.2},{"s":"meas","x":98.3,"y":179.9},{"s":"meas","x":98.7,"y":179.4},{"s":"meas","x":99.1,"y":180.2},{"s":"meas","x":99.5,"y":179.6},{"s":"meas","x":99.9,"y":179.9}
]
},
"vconcat": [
{
 "width": 387, "height": 222,
 "data": {"name": "p1"},
 "resolve": {"axis": {"x": "independent", "y": "independent"}},
 "layer": [
  {"transform": [{"filter": "datum.s != 'meas'"}],
   "mark": {"type": "line", "clip": true, "color": "#1c1c1c", "strokeWidth": 1.1},
   "encoding": {
    "x": {"field": "x", "type": "quantitative", "scale": {"domain": [55, 100], "nice": false, "zero": false},
          "axis": {"orient": "bottom", "values": [60, 70, 80, 90, 100], "labelExpr": "datum.value % 20 == 0 ? datum.label : ''", "title": "Axial distance [mm]", "titlePadding": 7}},
    "y": {"field": "y", "type": "quantitative", "scale": {"domain": [205, 245], "nice": false, "zero": false},
          "axis": {"orient": "left", "values": [210, 220, 230, 240], "title": "Sound pressure level\u00a0 [dB]"}},
    "strokeDash": {"field": "s", "type": "nominal", "scale": {"domain": ["solid", "dashed", "dotted"], "range": [[1, 0], [7, 3], [1.5, 2]]}, "legend": null}
   }},
  {"transform": [{"filter": "datum.s == 'meas'"}],
   "mark": {"type": "point", "shape": "circle", "filled": true, "size": 26, "color": "#222222", "opacity": 1, "clip": true},
   "encoding": {
    "x": {"field": "x", "type": "quantitative", "axis": {"orient": "top", "values": [60, 70, 80, 90, 100], "labels": false, "title": null}},
    "y": {"field": "y", "type": "quantitative", "axis": {"orient": "right", "values": [210, 220, 230, 240], "labels": false, "title": null}}
   }},
  {"data": {"values": [{"label": "Fundamental"}]},
   "mark": {"type": "text", "align": "right", "baseline": "middle", "fontSize": 14, "color": "#1a1a1a"},
   "encoding": {"text": {"field": "label"}, "x": {"datum": 97.8, "type": "quantitative", "axis": null}, "y": {"datum": 240, "type": "quantitative", "axis": null}}}
 ]
},
{
 "width": 387, "height": 222,
 "data": {"name": "p2"},
 "resolve": {"axis": {"x": "independent", "y": "independent"}},
 "layer": [
  {"transform": [{"filter": "datum.s != 'meas'"}],
   "mark": {"type": "line", "clip": true, "color": "#1c1c1c", "strokeWidth": 1.1},
   "encoding": {
    "x": {"field": "x", "type": "quantitative", "scale": {"domain": [55, 100], "nice": false, "zero": false},
          "axis": {"orient": "bottom", "values": [60, 70, 80, 90, 100], "labelExpr": "datum.value % 20 == 0 ? datum.label : ''", "title": "Axial distance [mm]", "titlePadding": 20}},
    "y": {"field": "y", "type": "quantitative", "scale": {"domain": [185, 225], "nice": false, "zero": false},
          "axis": {"orient": "left", "values": [190, 200, 210, 220], "title": "Sound pressure level\u00a0 [dB]"}},
    "strokeDash": {"field": "s", "type": "nominal", "scale": {"domain": ["solid", "dashed", "dotted"], "range": [[1, 0], [7, 3], [1.5, 2]]}, "legend": null}
   }},
  {"transform": [{"filter": "datum.s == 'meas'"}],
   "mark": {"type": "point", "shape": "M-1,0L1,0M0,-1L0,1", "filled": false, "size": 30, "strokeWidth": 1.3, "color": "#262626", "opacity": 1, "clip": true},
   "encoding": {
    "x": {"field": "x", "type": "quantitative", "axis": {"orient": "top", "values": [60, 70, 80, 90, 100], "labels": false, "title": null}},
    "y": {"field": "y", "type": "quantitative", "axis": {"orient": "right", "values": [190, 200, 210, 220], "labels": false, "title": null}}
   }},
  {"data": {"values": [{"label": "Second harmonic"}]},
   "mark": {"type": "text", "align": "right", "baseline": "middle", "fontSize": 14, "color": "#1a1a1a"},
   "encoding": {"text": {"field": "label"}, "x": {"datum": 97.9, "type": "quantitative", "axis": null}, "y": {"datum": 220, "type": "quantitative", "axis": null}}}
 ]
},
{
 "width": 387, "height": 222,
 "data": {"name": "p3"},
 "resolve": {"axis": {"x": "independent", "y": "independent"}},
 "layer": [
  {"transform": [{"filter": "datum.s != 'meas'"}],
   "mark": {"type": "line", "clip": true, "color": "#1c1c1c", "strokeWidth": 1.1},
   "encoding": {
    "x": {"field": "x", "type": "quantitative", "scale": {"domain": [55, 100], "nice": false, "zero": false},
          "axis": {"orient": "bottom", "values": [60, 70, 80, 90, 100], "labelExpr": "datum.value % 20 == 0 ? datum.label : ''", "title": "Axial distance [mm]", "titlePadding": 15}},
    "y": {"field": "y", "type": "quantitative", "scale": {"domain": [165, 205], "nice": false, "zero": false},
          "axis": {"orient": "left", "values": [170, 180, 190, 200], "title": "Sound pressure level\u00a0 [dB]"}},
    "strokeDash": {"field": "s", "type": "nominal", "scale": {"domain": ["solid", "dashed", "dotted"], "range": [[1, 0], [7, 3], [1.5, 2]]}, "legend": null}
   }},
  {"transform": [{"filter": "datum.s == 'meas'"}],
   "mark": {"type": "point", "shape": "M-1,-1L1,1M-1,1L1,-1", "filled": false, "size": 20, "strokeWidth": 1.5, "color": "#262626", "opacity": 1, "clip": true},
   "encoding": {
    "x": {"field": "x", "type": "quantitative", "axis": {"orient": "top", "values": [60, 70, 80, 90, 100], "labels": false, "title": null}},
    "y": {"field": "y", "type": "quantitative", "axis": {"orient": "right", "values": [170, 180, 190, 200], "labels": false, "title": null}}
   }},
  {"data": {"values": [{"label": "Third harmonic"}]},
   "mark": {"type": "text", "align": "right", "baseline": "middle", "fontSize": 14, "color": "#1a1a1a"},
   "encoding": {"text": {"field": "label"}, "x": {"datum": 96.9, "type": "quantitative", "axis": null}, "y": {"datum": 200, "type": "quantitative", "axis": null}}}
 ]
}
]
}
